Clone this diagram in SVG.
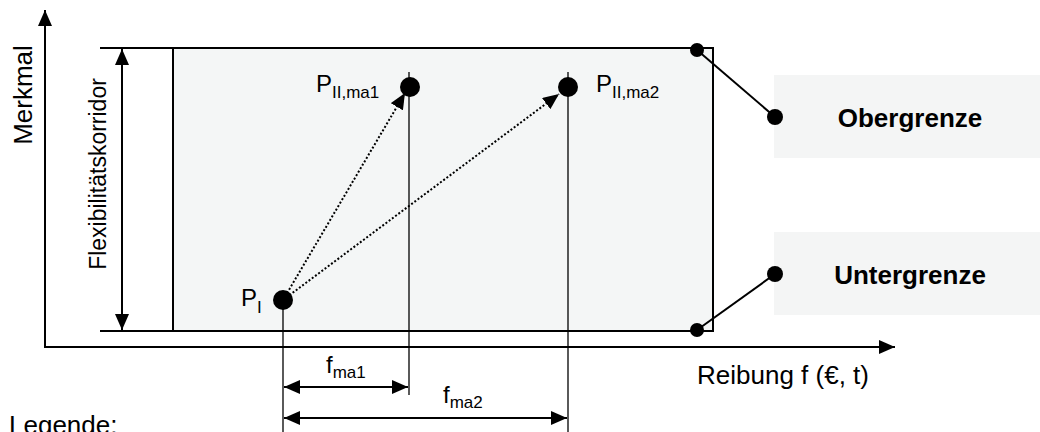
<svg xmlns="http://www.w3.org/2000/svg" width="1040" height="432" viewBox="0 0 1040 432">
<style>
text{font-family:"Liberation Sans",Arial,sans-serif;fill:#000}
.t{font-size:26px}
.b{font-size:26px;font-weight:bold}
.p{font-size:24px}
.s{font-size:17px}
.ln{stroke:#000;stroke-width:2;fill:none}
.thin{stroke:#000;stroke-width:1.3;fill:none}
.dot{stroke:#000;stroke-width:2;fill:none;stroke-dasharray:2 2}
.box{fill:#f4f5f5;stroke:none}
</style>
<defs>
<marker id="ah" viewBox="0 0 16 14" refX="16" refY="7" markerWidth="16" markerHeight="14" markerUnits="userSpaceOnUse" orient="auto-start-reverse">
<path d="M0,0 L16,7 L0,14 Z" fill="#000"/>
</marker>
</defs>
<g id="corridor">
<rect x="173" y="48" width="540" height="283" fill="#f4f6f6" stroke="#000" stroke-width="2"/>
<line class="ln" x1="100" y1="48" x2="713" y2="48"/>
<line class="ln" x1="100" y1="331" x2="713" y2="331"/>
</g>
<g id="axes">
<line class="ln" x1="45" y1="348" x2="45" y2="10" marker-end="url(#ah)"/>
<line class="ln" x1="44" y1="347" x2="895" y2="347" marker-end="url(#ah)"/>
<text class="t" transform="translate(32,95) rotate(-90)" text-anchor="middle">Merkmal</text>
<text class="t" x="697" y="384">Reibung f (€, t)</text>
</g>
<g id="flex">
<line class="ln" x1="122" y1="49" x2="122" y2="330" marker-start="url(#ah)" marker-end="url(#ah)"/>
<text transform="translate(106,174) rotate(-90)" text-anchor="middle" style="font-size:23px">Flexibilitätskorridor</text>
</g>
<g id="connectors">
<line class="thin" x1="283" y1="300" x2="283" y2="432"/>
<line class="thin" x1="409" y1="72" x2="409" y2="395"/>
<line class="thin" x1="568" y1="72" x2="568" y2="432"/>
<line class="dot" x1="283" y1="300" x2="405" y2="93" marker-end="url(#ah)"/>
<line class="dot" x1="283" y1="300" x2="559" y2="94" marker-end="url(#ah)"/>
<line class="ln" x1="284" y1="387" x2="408" y2="387" marker-start="url(#ah)" marker-end="url(#ah)"/>
<line class="ln" x1="284" y1="418" x2="567" y2="418" marker-start="url(#ah)" marker-end="url(#ah)"/>
<line class="ln" x1="697" y1="50" x2="775" y2="117"/>
<line class="ln" x1="697" y1="330" x2="775" y2="274"/>
</g>
<g id="PI">
<circle cx="283" cy="300" r="10"/>
<text class="p" x="241" y="306">P<tspan class="s" dy="7">I</tspan></text>
</g>
<g id="PIIma1">
<circle cx="410" cy="87" r="10"/>
<text class="p" x="316" y="92">P<tspan class="s" dy="6">II,ma1</tspan></text>
</g>
<g id="PIIma2">
<circle cx="568" cy="87" r="10"/>
<text class="p" x="596" y="92">P<tspan class="s" dy="6">II,ma2</tspan></text>
</g>
<g id="fma1">
<text class="p" x="326" y="373">f<tspan class="s" dy="5">ma1</tspan></text>
</g>
<g id="fma2">
<text class="p" x="443" y="403">f<tspan class="s" dy="5">ma2</tspan></text>
</g>
<g id="obergrenze">
<rect class="box" x="774" y="75" width="266" height="83"/>
<circle cx="697" cy="50" r="7"/>
<circle cx="775" cy="117" r="8"/>
<text class="b" x="910" y="127" text-anchor="middle">Obergrenze</text>
</g>
<g id="untergrenze">
<rect class="box" x="774" y="232" width="266" height="83"/>
<circle cx="697" cy="330" r="7"/>
<circle cx="775" cy="274" r="8"/>
<text class="b" x="910" y="284" text-anchor="middle">Untergrenze</text>
</g>
<g id="legende">
<text class="t" x="9" y="434">Legende:</text>
</g>
</svg>
